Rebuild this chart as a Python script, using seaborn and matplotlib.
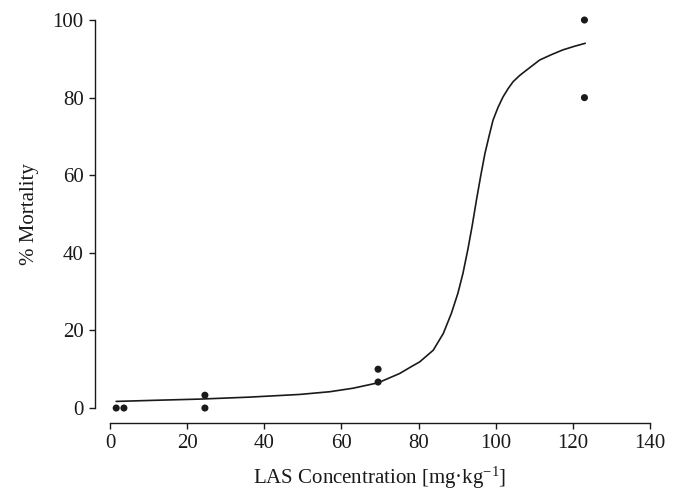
import matplotlib
matplotlib.use("Agg")
import matplotlib.pyplot as plt
import seaborn as sns
import pandas as pd

# Observed data points
obs_conc = [1.6, 3.6, 24.6, 24.6, 69.5, 69.5, 123.0, 123.0]
obs_mort = [0.0, 0.0, 3.3, 0.0, 10.0, 6.7, 100.0, 80.0]

# Fitted curve, values
curve_conc = [1.6, 12.0, 23.3, 36.0, 49.2, 57.0, 63.0, 69.5, 75.1, 78.0,
              80.3, 83.8, 86.4, 88.5, 90.2, 91.5, 92.8, 93.9, 95.0, 96.1,
              97.2, 98.3, 99.3, 100.6, 101.9, 103.2, 104.5, 106.2, 108.0,
              111.4, 114.5, 117.4, 120.3, 123.2]
curve_mort = [1.7, 2.0, 2.3, 2.8, 3.5, 4.2, 5.1, 6.5, 8.9, 10.6,
              11.9, 14.9, 19.2, 24.4, 29.6, 34.7, 41.0, 47.0, 53.6, 59.8,
              65.6, 70.2, 74.2, 77.5, 80.2, 82.3, 84.1, 85.7, 87.1,
              89.7, 91.1, 92.3, 93.2, 94.0]

xticks = [0, 20, 40, 60, 80, 100, 120, 140]
yticks = [0, 20, 40, 60, 80, 100]

sns.set_theme(style="ticks")
plt.rcParams["font.family"] = ["Liberation Serif", "DejaVu Serif"]
plt.rcParams["mathtext.fontset"] = "custom"
plt.rcParams["mathtext.rm"] = "Liberation Serif"
plt.rcParams["mathtext.it"] = "Liberation Serif:italic"

obs = pd.DataFrame({"conc": obs_conc, "mort": obs_mort})
fit = pd.DataFrame({"conc": curve_conc, "mort": curve_mort})

fig = plt.figure(figsize=(6.8, 4.92), dpi=100)
ax = fig.add_axes([0.1618, 0.1707, 0.7941, 0.7886])

sns.lineplot(data=fit, x="conc", y="mort", ax=ax, color="#1a1a1a",
             linewidth=1.2, sort=False, clip_on=False,
             solid_joinstyle="round", solid_capstyle="round")
sns.scatterplot(data=obs, x="conc", y="mort", ax=ax, color="#1a1a1a",
                s=26, edgecolor="none", clip_on=False, zorder=3)

ax.set_xlim(0, 140)
ax.set_ylim(0, 100)
ax.set_xticks(xticks)
ax.set_yticks(yticks)
ax.tick_params(axis="both", labelsize=15, length=4.5, width=1.0,
               color="#1a1a1a", labelcolor="#1a1a1a", direction="out")
sns.despine(ax=ax, offset=11)
for sp in ("left", "bottom"):
    ax.spines[sp].set_linewidth(1.0)
    ax.spines[sp].set_color("#1a1a1a")

ax.set_xlabel(r"LAS Concentration [mg·kg$^{-1}$]", fontsize=15,
              color="#1a1a1a", labelpad=8)
ax.set_ylabel("% Mortality", fontsize=15, color="#1a1a1a", labelpad=10)

fig.savefig("out.png", dpi=100)
